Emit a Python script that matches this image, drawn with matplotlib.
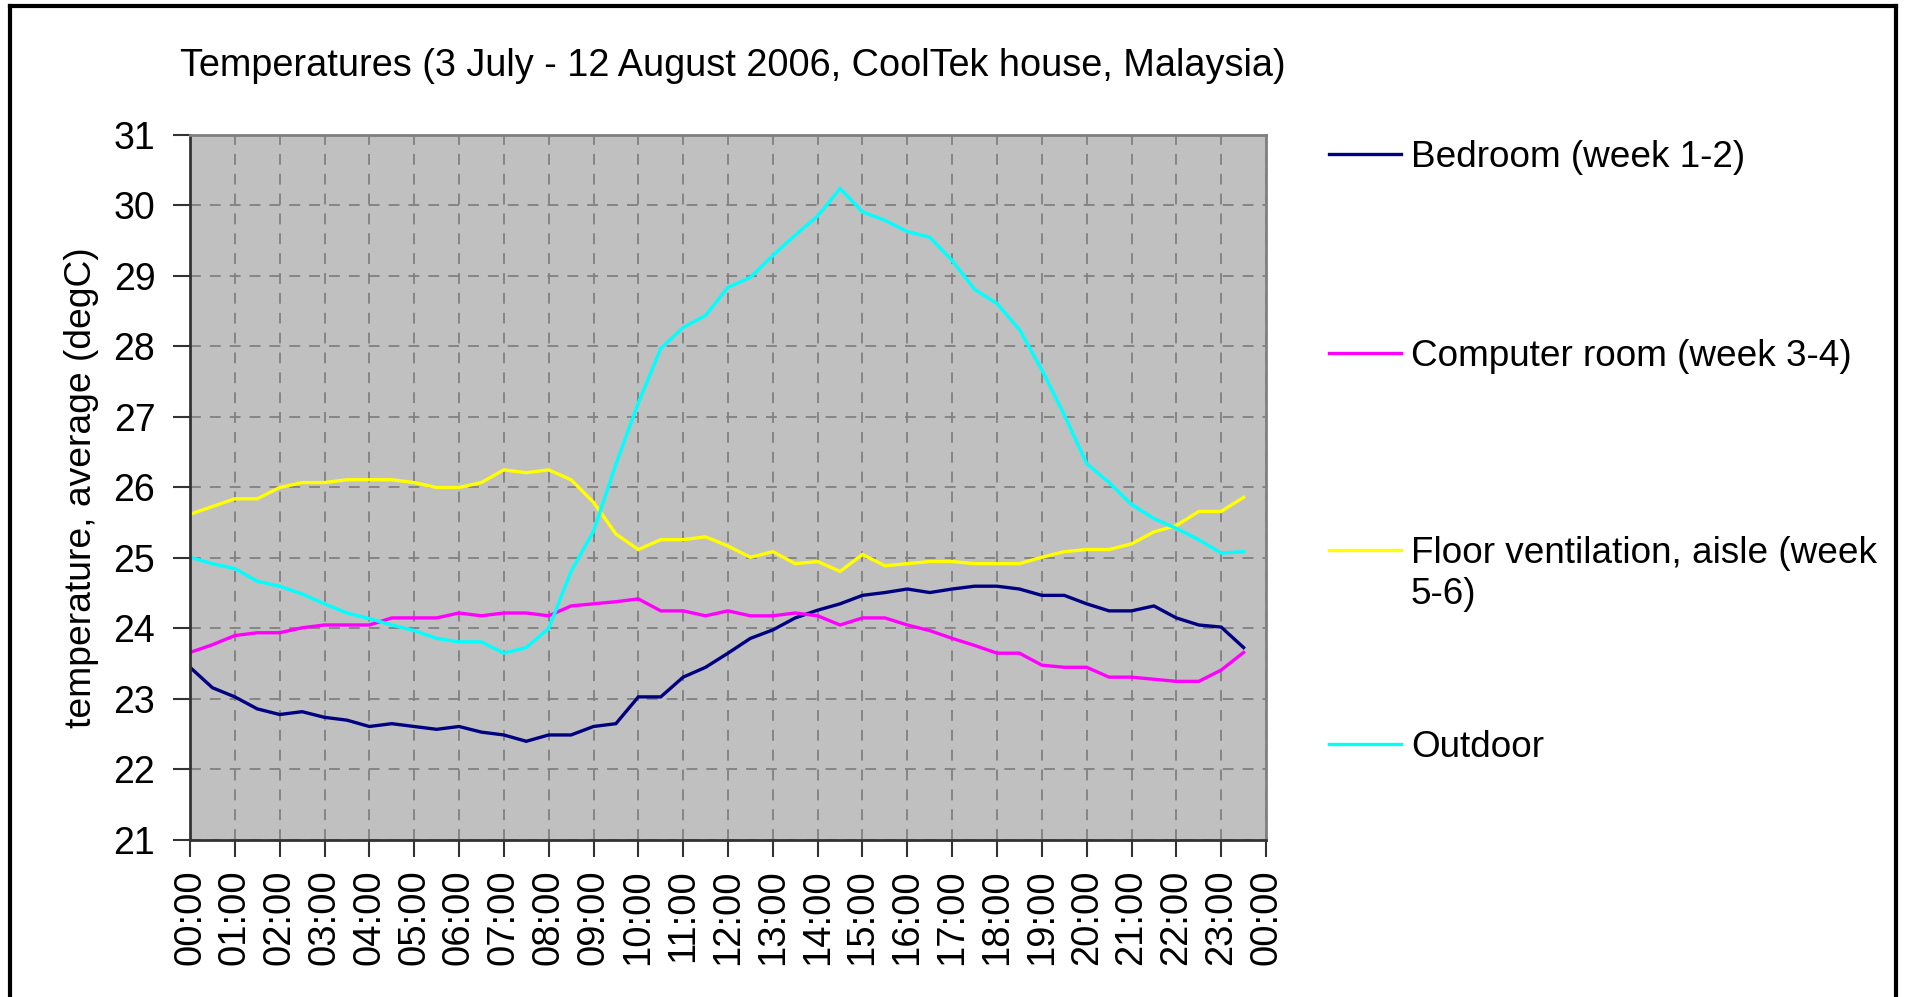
import numpy as np
import matplotlib
matplotlib.use("Agg")
from matplotlib import pyplot as plt
from matplotlib.lines import Line2D

plt.rcParams['font.family'] = ['Liberation Sans', 'DejaVu Sans']

# half-hourly averages, 00:00 .. 23:30
hours = np.arange(48) * 0.5

bedroom = [23.45, 23.16, 23.03, 22.86, 22.78, 22.82, 22.74, 22.70, 22.61, 22.65,
           22.61, 22.57, 22.61, 22.53, 22.49, 22.40, 22.49, 22.49, 22.61, 22.65,
           23.03, 23.03, 23.31, 23.45, 23.65, 23.86, 23.98, 24.15, 24.26, 24.35,
           24.47, 24.51, 24.56, 24.51, 24.56, 24.60, 24.60, 24.56, 24.47, 24.47,
           24.35, 24.25, 24.25, 24.32, 24.15, 24.05, 24.02, 23.73]
computer_room = [23.66, 23.77, 23.90, 23.94, 23.94, 24.01, 24.05, 24.05, 24.05, 24.15,
                 24.15, 24.15, 24.22, 24.18, 24.22, 24.22, 24.18, 24.32, 24.35, 24.38,
                 24.42, 24.25, 24.25, 24.18, 24.25, 24.18, 24.18, 24.22, 24.18, 24.05,
                 24.15, 24.15, 24.05, 23.97, 23.86, 23.76, 23.65, 23.65, 23.48, 23.45,
                 23.45, 23.31, 23.31, 23.28, 23.25, 23.25, 23.41, 23.66]
floor_vent = [25.62, 25.73, 25.84, 25.84, 26.00, 26.07, 26.07, 26.11, 26.11, 26.11,
              26.07, 26.00, 26.00, 26.07, 26.25, 26.21, 26.25, 26.11, 25.79, 25.34,
              25.12, 25.26, 25.26, 25.30, 25.17, 25.01, 25.09, 24.92, 24.95, 24.81,
              25.05, 24.89, 24.92, 24.95, 24.95, 24.92, 24.92, 24.92, 25.01, 25.09,
              25.12, 25.12, 25.20, 25.37, 25.46, 25.66, 25.66, 25.86]
outdoor = [25.01, 24.92, 24.85, 24.67, 24.60, 24.49, 24.35, 24.22, 24.14, 24.05,
           23.97, 23.86, 23.81, 23.81, 23.65, 23.73, 24.00, 24.81, 25.38, 26.33,
           27.20, 27.97, 28.27, 28.44, 28.84, 28.98, 29.29, 29.58, 29.85, 30.24,
           29.91, 29.79, 29.63, 29.55, 29.22, 28.81, 28.61, 28.24, 27.67, 27.03,
           26.34, 26.07, 25.76, 25.56, 25.42, 25.26, 25.07, 25.09]

series_names = ["Bedroom (week 1-2)", "Computer room (week 3-4)",
                "Floor ventilation, aisle (week\n5-6)", "Outdoor"]
series_colors = ["#000080", "#FF00FF", "#FFFF00", "#00FFFF"]
hour_labels = ["%02d:00" % (h % 24) for h in range(25)]

fig = plt.figure(figsize=(19.07, 9.97), dpi=100)
ax = fig.add_axes([190 / 1907, 1 - 840 / 997, (1266 - 190) / 1907, (840 - 135) / 997])
ax.set_facecolor("#C0C0C0")

for data, name, color in zip([bedroom, computer_room, floor_vent, outdoor],
                             series_names, series_colors):
    ax.plot(hours, data, color=color, lw=2.4, label=name, solid_joinstyle="miter")

ax.set_xlim(0, 24)
ax.set_ylim(21, 31)
ax.set_xticks(range(25))
ax.set_xticklabels(hour_labels, rotation=90, fontsize=27.5)
ax.set_yticks(range(21, 32))
ax.tick_params(axis="y", labelsize=27, length=12, width=1.5, pad=13, direction="out", color="#333333")
ax.tick_params(axis="x", length=12, width=1.5, pad=9, direction="out", color="#333333")
ax.grid(True, color="#808080", linestyle=(0, (6, 5)), linewidth=1.3)
ax.set_axisbelow(True)

for s in ["top", "right"]:
    ax.spines[s].set_color("#808080")
    ax.spines[s].set_linewidth(2)
for s in ["left", "bottom"]:
    ax.spines[s].set_color("#333333")
    ax.spines[s].set_linewidth(2)

ax.set_ylabel("temperature, average (degC)", fontsize=26.8)
ax.yaxis.set_label_coords(-0.085, 0.5)

fig.text(180 / 1907, 1 - 66 / 997, "Temperatures (3 July - 12 August 2006, CoolTek house, Malaysia)",
         fontsize=27.3, va="center", ha="left")

# legend, laid out like the spreadsheet one
legend_y = [154, 353, 550, 744]
for name, color, ly in zip(series_names, series_colors, legend_y):
    yf = 1 - ly / 997
    fig.add_artist(Line2D([1329 / 1907, 1401 / 1907], [yf, yf], color=color, lw=2.4))
    fig.text(1411 / 1907, yf + 0.0145, name, fontsize=26.6, va="top", ha="left", linespacing=1.25)

# outer frame (top, left, right)
fig.add_artist(Line2D([10 / 1907, 10 / 1907], [0, 1 - 6 / 997], color="black", lw=3))
fig.add_artist(Line2D([1896 / 1907, 1896 / 1907], [0, 1 - 6 / 997], color="black", lw=3))
fig.add_artist(Line2D([10 / 1907, 1896 / 1907], [1 - 6 / 997, 1 - 6 / 997], color="black", lw=3))

fig.savefig("out.png", dpi=100)
